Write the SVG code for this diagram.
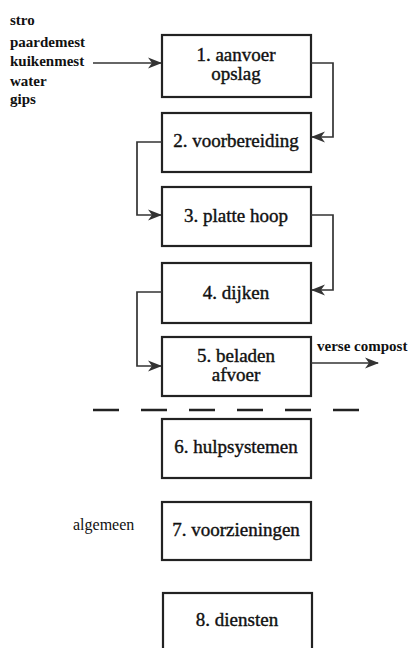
<svg xmlns="http://www.w3.org/2000/svg" width="414" height="648" viewBox="0 0 414 648">
<defs>
<style>
.box{fill:#fff;stroke:#222;stroke-width:2.2}
.t{font-family:"Liberation Serif","Times New Roman",serif;font-size:19px;fill:#111;stroke:#111;stroke-width:0.4;text-anchor:middle}
.lbl{font-family:"Liberation Serif","Times New Roman",serif;font-size:15px;font-weight:bold;fill:#111}
.con{fill:none;stroke:#333;stroke-width:1.7}
.dash{stroke:#222;stroke-width:2.6;stroke-dasharray:26 22}
</style>
<marker id="ah" viewBox="0 -6 14 12" refX="13" refY="0" markerWidth="14" markerHeight="12" markerUnits="userSpaceOnUse" orient="auto">
<path d="M0,-5.5 L14,0 L0,5.5 L4,0 Z" fill="#333"/>
</marker>
</defs>
<rect width="414" height="648" fill="#fff"/>

<g id="inputs">
<text class="lbl" x="10" y="25">stro</text>
<text class="lbl" x="10" y="47">paardemest</text>
<text class="lbl" x="10" y="66">kuikenmest</text>
<text class="lbl" x="10" y="86">water</text>
<text class="lbl" x="10" y="104">gips</text>
</g>

<g id="n1"><rect class="box" x="162" y="35" width="149" height="62"/>
<text class="t" x="236" y="61">1. aanvoer</text><text class="t" x="236" y="80">opslag</text></g>
<g id="n2"><rect class="box" x="162" y="113" width="149" height="59"/>
<text class="t" x="236" y="147">2. voorbereiding</text></g>
<g id="n3"><rect class="box" x="162" y="187" width="149" height="59"/>
<text class="t" x="236" y="222">3. platte hoop</text></g>
<g id="n4"><rect class="box" x="162" y="263" width="149" height="60"/>
<text class="t" x="236" y="299">4. dijken</text></g>
<g id="n5"><rect class="box" x="162" y="337" width="149" height="59"/>
<text class="t" x="236" y="362">5. beladen</text><text class="t" x="236" y="381">afvoer</text></g>
<g id="n6"><rect class="box" x="162" y="419" width="149" height="59"/>
<text class="t" x="236" y="453">6. hulpsystemen</text></g>
<g id="n7"><rect class="box" x="162" y="502" width="149" height="58"/>
<text class="t" x="236" y="536">7. voorzieningen</text></g>
<g id="n8"><rect class="box" x="163" y="593" width="149" height="60"/>
<text class="t" x="237" y="626">8. diensten</text></g>

<g id="side">
<text class="lbl" x="73" y="530" style="font-weight:normal;font-size:16px">algemeen</text>
<text class="lbl" x="317" y="351">verse compost</text>
</g>

<g id="connectors">
<path class="con" d="M93,63 H161" marker-end="url(#ah)"/>
<path class="con" d="M311,63 H333 V137 H312" marker-end="url(#ah)"/>
<path class="con" d="M162,142 H137 V215 H161" marker-end="url(#ah)"/>
<path class="con" d="M311,215 H333 V290 H312" marker-end="url(#ah)"/>
<path class="con" d="M162,292 H137 V366 H161" marker-end="url(#ah)"/>
<path class="con" d="M311,363 H378" marker-end="url(#ah)"/>
<line class="dash" x1="93" y1="410" x2="360" y2="410"/>
</g>
</svg>
